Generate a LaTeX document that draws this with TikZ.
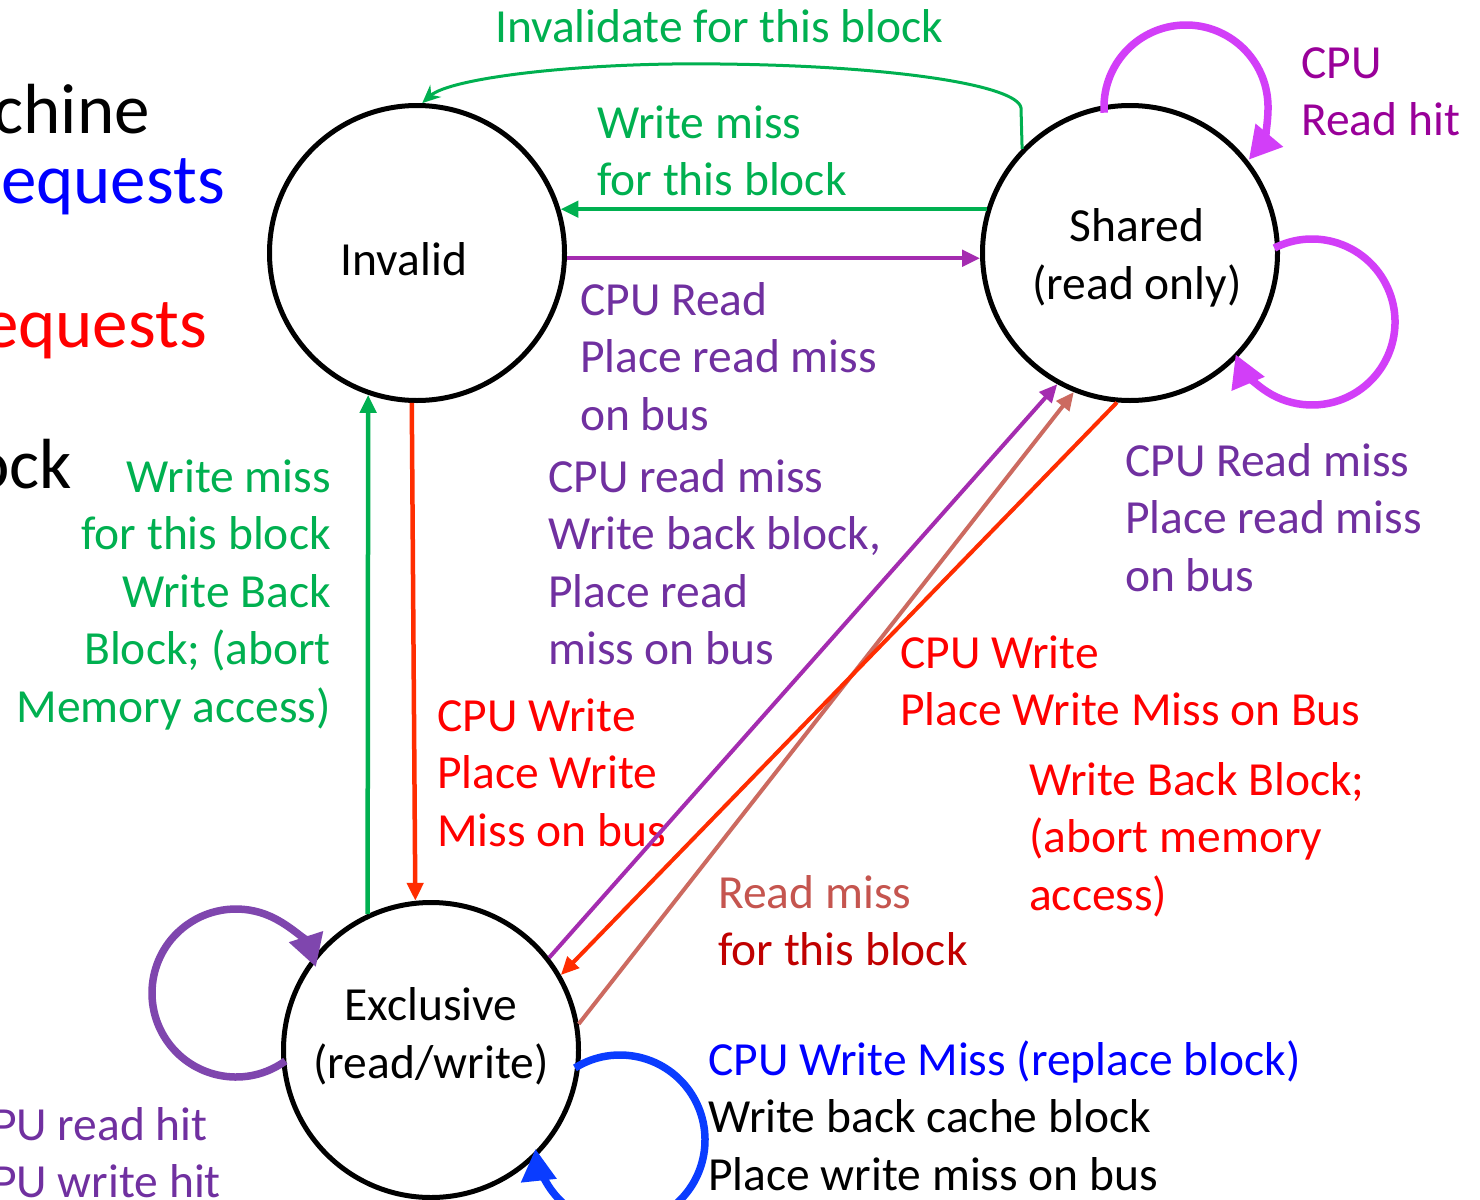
\documentclass[tikz,border=0pt]{standalone}
\usepackage{fontspec}
\setmainfont{Carlito}
\usetikzlibrary{arrows.meta,calc}
\definecolor{grn}{HTML}{00B050}
\definecolor{lblpurple}{HTML}{7030A0}
\definecolor{hitmag}{HTML}{990099}
\definecolor{loopmag}{HTML}{D23EF8}
\definecolor{loopviolet}{HTML}{7F46AE}
\definecolor{linered}{HTML}{FF2D00}
\definecolor{linepurple}{HTML}{A42CB0}
\definecolor{linerose}{HTML}{CC6A60}
\definecolor{rosetext}{HTML}{C5554F}
\definecolor{darkred}{HTML}{C00000}
\definecolor{loopblue}{HTML}{0A3CFF}
\begin{document}
\begin{tikzpicture}[x=1pt,y=-1pt,
  state/.style={circle,draw=black,line width=5pt,fill=white,minimum size=295pt,inner sep=0pt,align=center,font=\fontsize{47.5}{58}\selectfont},
  lbl/.style={anchor=north west,inner sep=0pt,align=left,font=\fontsize{47.5}{57.5}\selectfont},
  lblr/.style={anchor=north east,inner sep=0pt,align=right,font=\fontsize{47.5}{57.5}\selectfont},
  big/.style={anchor=base east,inner sep=0pt,font=\fontsize{71}{85}\selectfont},
  conn/.style={line width=4.5pt,-{Triangle[length=18pt,width=16pt]}},
  loopline/.style={line width=7.5pt,-{Triangle[length=32pt,width=34pt]}},
]
\fill[white] (0,0) rectangle (1480,1199);
\useasboundingbox (0,0) rectangle (1480,1199);

% states
\node[state] (I) at (417,253) {\rule{0pt}{46pt}Invalid\hspace*{26pt}};
\node[state] (S) at (1130,253) {\hspace*{14pt}\rule{0pt}{43pt}Shared\\\hspace*{14pt}(read only)};
\node[state] (E) at (431,1050) {Exclusive\\(read/write)\rule[-35pt]{0pt}{1pt}};

% clipped title texts
\node[big] (t1) at (150,133) {chine};
\node[big,text=blue] (t2) at (225,203) {equests};
\node[big,text=red] (t3) at (207,347) {equests};
\node[big] (t4) at (72,488) {ock};

% labels
\node[lbl,text=grn] (invl) at (495,2) {\strut Invalidate for this block};
\node[lbl,text=grn] (wmtop) at (597,98) {\strut Write miss\\for this block};
\node[lbl,text=lblpurple] (cpuread) at (580,275) {\strut CPU Read\\Place read miss\\on bus};
\node[lbl,text=lblpurple] (crm) at (548,452) {\strut CPU read miss\\Write back block,\\Place read\\miss on bus};
\node[lbl,text=lblpurple] (srm) at (1125,436) {\strut CPU Read miss\\Place read miss\\on bus};
\node[lbl,text=red] (cw1) at (900,628) {\strut CPU Write\\Place Write Miss on Bus};
\node[lbl,text=red] (wbb) at (1029,755) {\strut Write Back Block;\\(abort memory\\access)};
\node[lbl,text=rosetext] (rm) at (718,868) {\strut Read miss\\{\color{darkred}for this block}};
\node[lbl,text=red] (cw2) at (437,691) {\strut CPU Write\\Place Write\\Miss on bus};
\node[lblr,text=grn] (gleft) at (331,452) {\strut Write miss\\for this block\\Write Back\\Block; (abort\\Memory access)};
\node[lbl,text=hitmag] (crh) at (1301,38) {\strut CPU\\Read hit};
\node[lbl,text=black] (cwm) at (708,1035) {\strut{\color{blue}CPU Write Miss (replace block)}\\Write back cache block\\Place write miss on bus};
\node[lbl,text=lblpurple] (hits) at (-8,1100) {\strut PU read hit\\PU write hit};

% connectors
\draw[grn,line width=3pt,-{Stealth[length=18pt,width=16pt]}] (S.136) -- (1021,108) .. controls (1018,86) and (900,66) .. (720,64) .. controls (580,62) and (450,78) .. (I.88);
\draw[conn,grn] (S.163) -- (I.17);
\draw[conn,linepurple] (I.-2) -- (S.182);
\draw[conn,grn] (E.115) -- (I.251);
\draw[conn,linered] (I.268) -- (E.96);
\draw[conn,linepurple,line width=4pt] (E.38) -- (S.241);
\draw[conn,linerose,line width=4pt] (E.10) -- (S.248);
\draw[conn,linered,line width=4pt] (S.265) -- (E.30);

% self loops
\coordinate (cST) at (1186,107);
\coordinate (cSR) at (1312,322);
\coordinate (cEL) at (236,993);
\coordinate (cEB) at (620,1140);
\draw[loopline,loopmag] ($(cST)+(184:82pt)$) arc[start angle=184,end angle=-40,radius=82pt];
\draw[loopline,loopmag] ($(cSR)+(117:83pt)$) arc[start angle=117,end angle=-157,radius=83pt];
\draw[loopline,loopviolet] ($(cEL)+(-54:84pt)$) arc[start angle=-54,end angle=-342,radius=84pt];
\draw[loopline,loopblue] ($(cEB)+(122:85pt)$) arc[start angle=122,end angle=-174,radius=85pt];
\end{tikzpicture}
\end{document}
